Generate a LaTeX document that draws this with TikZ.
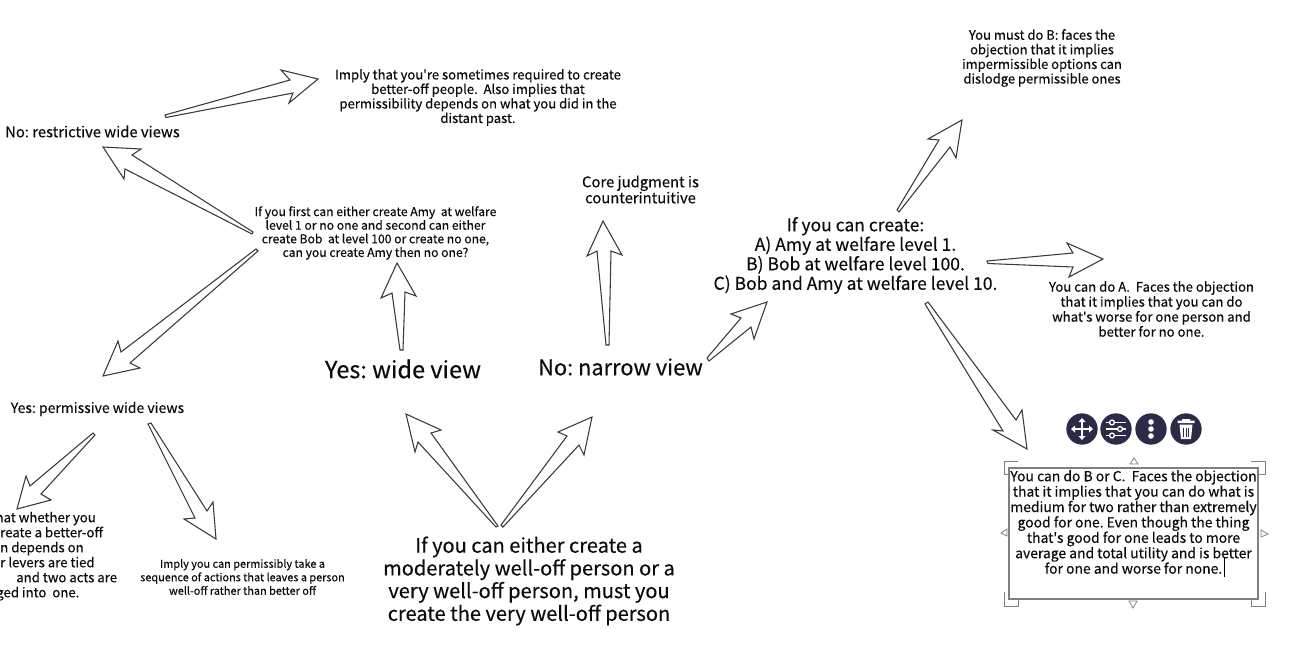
\documentclass[tikz,border=0pt]{standalone}
\usepackage{fontspec}
\setmainfont{Noto Sans CJK SC}
\newfontfamily\nsf{Noto Sans CJK SC}[FakeBold=0.25]
\definecolor{inkc}{HTML}{0C0C0C}
\definecolor{linec}{HTML}{3A3A3A}
\definecolor{btnc}{HTML}{2B2A47}
\definecolor{boxc}{HTML}{808080}
\newcommand{\fsz}[2]{\nsf\fontsize{\dimexpr#1pt*3/4\relax}{\dimexpr#2pt*3/4\relax}\selectfont\frenchspacing\lineskiplimit=-20pt\relax}
\tikzset{
  lbl/.style={align=center,inner sep=0pt,text=inkc,anchor=center},
  harrow/.style={draw=linec,line width=0.8pt,fill=white,line join=miter},
  handle/.style={draw=boxc,line width=0.65pt},
  tri/.style={draw=boxc,line width=0.6pt,fill=white},
  btn/.style={circle,fill=btnc,draw=none,minimum size=23.5pt,inner sep=0pt},
  ic/.style={draw=white,line width=1.3pt}
}
\begin{document}
\begin{tikzpicture}[x=0.75pt,y=-0.75pt]
\useasboundingbox (0,0) rectangle (1300,650);
\clip (0,0) rectangle (1300,650);
\fill[white] (0,0) rectangle (1300,650);
% text
\node[lbl,font=\fsz{13.1}{14.5}] (implyreq) at (478,97.5) {Imply that you're sometimes required to create\\better-off people.\ \ Also implies that\\permissibility depends on what you did in the\\distant past.};
\node[lbl,font=\fsz{14.8}{16}] (restrict) at (92.5,131.5) {No: restrictive wide views};
\node[lbl,font=\fsz{12.15}{13.6}] (iffirst) at (375.5,233) {If you first can either create Amy\ \ at welfare\\level 1 or no one and second can either\\create Bob\ \ at level 100 or create no one,\\can you create Amy then no one?};
\node[lbl,font=\fsz{14.8}{16}] (core) at (640.5,189.5) {Core judgment is\\counterintuitive};
\node[lbl,font=\fsz{13}{14.6}] (mustb) at (1042,58) {You must do B: faces the\\objection that it implies\\impermissible options can\\dislodge permissible ones};
\node[lbl,font=\fsz{17.5}{19.5}] (ifcan) at (855.5,255.5) {If you can create:\\A) Amy at welfare level 1.\\B) Bob at welfare level 100.\\C) Bob and Amy at welfare level 10.};
\node[lbl,font=\fsz{13.15}{15}] (cana) at (1151.5,309) {You can do A.\ \ Faces the objection\\that it implies that you can do\\what's worse for one person and\\better for no one.};
\node[lbl,font=\fsz{23.5}{26}] (wide) at (403,369) {Yes: wide view};
\node[lbl,font=\fsz{21.8}{23}] (narrow) at (620.5,367) {No: narrow view};
\node[lbl,font=\fsz{14}{15}] (permis) at (97.5,409) {Yes: permissive wide views};
\node[lbl,font=\fsz{10.9}{13.5}] (seq) at (242.5,577) {Imply you can permissibly take a\\sequence of actions that leaves a person\\well-off rather than better off};
\node[lbl,font=\fsz{20.05}{22.7}] (root) at (529,581) {If you can either create a\\moderately well-off person or a\\very well-off person, must you\\create the very well-off person};
\node[inner sep=0pt,align=left,anchor=north west,text=inkc,font=\fsz{13.2}{15}] (levers) at (0,511.5) {\hspace*{-3.5pt}hat whether you\\reate a better-off\\n depends on\\r levers are tied\\\hspace*{12pt}and two acts are\\\hspace*{-3pt}ged into\ \ one.};
\node[lbl,font=\fsz{13.9}{15.4}] (boxtext) at (1133.5,522) {You can do B or C.\ \ Faces the objection\\that it implies that you can do what is\\medium for two rather than extremely\\good for one. Even though the thing\\that's good for one leads to more\\average and total utility and is better\\for one and worse for none.};
% arrows
\coordinate (a1t) at (165,115);\coordinate (a1h) at (318,79);
\draw[harrow] (a1t) -- (290,80) -- (281,70) -- (a1h) -- (289,103) -- (293,93) -- (166,117.5) -- cycle;
\coordinate (a2t) at (253,232);\coordinate (a2h) at (103,147);
\draw[harrow] (a2t) -- (132,155) -- (141,149) -- (a2h) -- (124,179) -- (125,169) -- (252,234) -- cycle;
\coordinate (a3t) at (256,249);\coordinate (a3h) at (103,376);
\draw[harrow] (a3t) -- (121,352) -- (118,341) -- (a3h) -- (140,368) -- (130,363) -- (258,251) -- cycle;
\coordinate (a4t) at (93,433);\coordinate (a4h) at (17,509);
\draw[harrow] (a4t) -- (30,486) -- (26,476) -- (a4h) -- (51,500) -- (41,494) -- (95,435) -- cycle;
\coordinate (a5t) at (148,424);\coordinate (a5h) at (216,539);
\draw[harrow] (a5t) -- (195,518) -- (184,519) -- (a5h) -- (213,502) -- (207,511) -- (151,423) -- cycle;
\coordinate (a6t) at (400,350);\coordinate (a6h) at (397,263);
\draw[harrow] (a6t) -- (392,293) -- (381,298) -- (a6h) -- (416,296) -- (405,292) -- (403,350) -- cycle;
\coordinate (a7t) at (606,345);\coordinate (a7h) at (603,221);
\draw[harrow] (a7t) -- (597,251) -- (587,256) -- (a7h) -- (622,255) -- (611,251) -- (609,345) -- cycle;
\coordinate (a8t) at (496,527);\coordinate (a8h) at (406,414);
\draw[harrow] (a8t) -- (418,442) -- (415,452) -- (a8h) -- (441,430) -- (431,433) -- (498,526) -- cycle;
\coordinate (a9t) at (501,525);\coordinate (a9h) at (592,417);
\draw[harrow] (a9t) -- (567,436) -- (558,432) -- (a9h) -- (584,455) -- (579,445) -- (503,527) -- cycle;
\coordinate (a10t) at (707,358);\coordinate (a10h) at (767,302);
\draw[harrow] (a10t) -- (741,318) -- (731,314) -- (a10h) -- (754,339) -- (751,327) -- (709,361) -- cycle;
\coordinate (a11t) at (897,210);\coordinate (a11h) at (962,120);
\draw[harrow] (a11t) -- (939,140) -- (928,139) -- (a11h) -- (956,158) -- (950,147) -- (899,212) -- cycle;
\coordinate (a12t) at (987,261);\coordinate (a12h) at (1103,259);
\draw[harrow] (a12t) -- (1073,253) -- (1067,243) -- (a12h) -- (1069,277) -- (1073,267) -- (988,263.5) -- cycle;
\coordinate (a13t) at (925,304);\coordinate (a13h) at (1027,449);
\draw[harrow] (a13t) -- (1003,431) -- (993,430) -- (a13h) -- (1022,410) -- (1016,420) -- (928,302) -- cycle;
% selection box
\draw[draw=boxc,line width=0.9pt] (1009,468) rectangle (1258,599);
\draw[handle] (1018,461) -- (1004,461) -- (1004,474) -- (1009,474);
\draw[handle] (1251,461) -- (1265,461) -- (1265,474) -- (1258,474);
\draw[handle] (1004,592) -- (1004,606) -- (1018,606) -- (1018,599);
\draw[handle] (1265,592) -- (1265,606) -- (1251,606) -- (1251,599);
\draw[tri] (1134,458) -- (1130,464) -- (1138,464) -- cycle;
\draw[tri] (1129,601) -- (1137,601) -- (1133,608) -- cycle;
\draw[tri] (1001,533) -- (1007,529) -- (1007,536) -- cycle;
\draw[tri] (1268,534) -- (1261,530) -- (1261,537) -- cycle;
\draw[black,line width=0.5pt] (1224,557) -- (1224,577);
% toolbar
\node[btn] (bmove) at (1082,429) {};
\node[btn] (bslide) at (1116,429) {};
\node[btn] (bdots) at (1151,429) {};
\node[btn] (btrash) at (1186,429) {};
\draw[ic] (1073,429) -- (1091,429) (1082,420) -- (1082,438);
\fill[white] (1071,429) -- (1075,425.5) -- (1075,432.5) -- cycle (1093,429) -- (1089,425.5) -- (1089,432.5) -- cycle
  (1082,418) -- (1078.5,422) -- (1085.5,422) -- cycle (1082,440) -- (1078.5,436) -- (1085.5,436) -- cycle;
\draw[ic] (1106,422.5) -- (1126,422.5) (1106,429) -- (1126,429) (1106,435.5) -- (1126,435.5);
\draw[draw=white,fill=btnc,line width=1pt] (1112,422.5) circle (2.4) (1120,429) circle (2.4) (1112,435.5) circle (2.4);
\fill[white] (1151,422) circle (2.8) (1151,429) circle (2.8) (1151,436) circle (2.8);
\fill[white] (1177.5,420.5) rectangle (1194.5,423) (1182,419) rectangle (1190,421);
\fill[white] (1179.5,424.5) -- (1192.5,424.5) -- (1191,439) -- (1181,439) -- cycle;
\draw[btnc,line width=0.6pt] (1183.5,427.5) -- (1183.5,436.5) (1186,427.5) -- (1186,436.5) (1188.5,427.5) -- (1188.5,436.5);
\end{tikzpicture}
\end{document}
